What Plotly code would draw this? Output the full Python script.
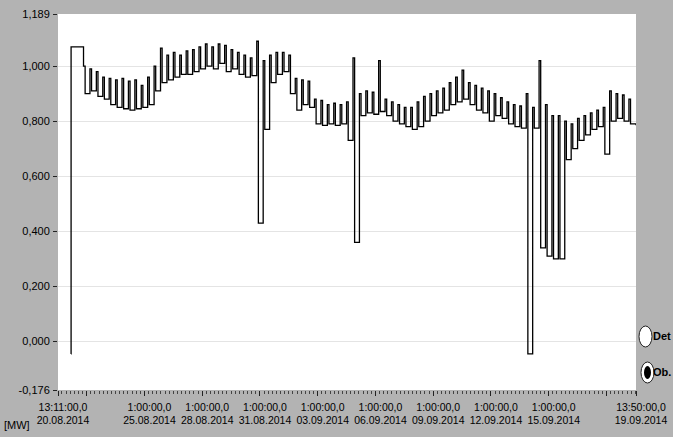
import pandas as pd
import plotly.graph_objects as go

# Active power of the unit, read per 8-hour shift: level at the start of the
# shift (high) and the level it falls back to (low), in MW
shift_high = [
    1.00, 0.99, 0.98, 0.96, 0.955, 0.95, 0.955, 0.945, 0.95, 0.93,
    0.96, 1.00, 1.065, 1.04, 1.05, 1.04, 1.055, 1.06, 1.07, 1.08,
    1.07, 1.08, 1.075, 1.06, 1.05, 1.04, 1.03, 1.09, 1.02, 1.04,
    1.05, 1.05, 1.04, 0.955, 0.95, 0.945, 0.88, 0.875, 0.86, 0.865,
    0.86, 0.87, 1.03, 0.90, 0.91, 0.905, 1.02, 0.88, 0.87, 0.86,
    0.85, 0.85, 0.87, 0.89, 0.90, 0.91, 0.92, 0.94, 0.96, 0.985,
    0.94, 0.93, 0.92, 0.91, 0.90, 0.885, 0.87, 0.86, 0.855, 0.90,
    0.85, 1.02, 0.86, 0.82, 0.82, 0.80, 0.79, 0.81, 0.82, 0.83,
    0.84, 0.85, 0.91, 0.90, 0.895, 0.88,
]
shift_low = [
    0.90, 0.91, 0.89, 0.88, 0.86, 0.85, 0.845, 0.84, 0.845, 0.85,
    0.86, 0.91, 0.94, 0.95, 0.96, 0.97, 0.97, 0.98, 0.99, 1.00,
    0.99, 1.01, 0.98, 0.99, 0.97, 0.96, 0.965, 0.43, 0.77, 0.94,
    0.97, 0.98, 0.90, 0.84, 0.86, 0.85, 0.79, 0.785, 0.79, 0.785,
    0.79, 0.73, 0.36, 0.82, 0.83, 0.825, 0.835, 0.82, 0.80, 0.79,
    0.78, 0.77, 0.78, 0.80, 0.82, 0.83, 0.84, 0.86, 0.87, 0.88,
    0.86, 0.84, 0.83, 0.80, 0.82, 0.81, 0.79, 0.78, 0.775, -0.045,
    0.775, 0.34, 0.31, 0.30, 0.30, 0.66, 0.70, 0.73, 0.75, 0.77,
    0.78, 0.68, 0.80, 0.81, 0.80, 0.79,
]
# Start of recording (value before the unit came online) and the flat
# substitute value held until the first shift
start_times = ["2014-08-21 05:20", "2014-08-21 05:30"]
start_values = [-0.045, 1.07]
first_shift = "2014-08-21 21:00"
high_hours = 2
end_time = "2014-09-19 13:50"
end_value = 0.785

axis_start = "2014-08-20 13:11"
axis_end = "2014-09-19 13:50"
y_ticks = [-0.176, 0.0, 0.2, 0.4, 0.6, 0.8, 1.0, 1.189]
y_ticktext = ["-0,176", "0,000", "0,200", "0,400", "0,600", "0,800", "1,000", "1,189"]
x_ticks = ["2014-08-20 13:11", "2014-08-22 01:00", "2014-08-25 01:00", "2014-08-28 01:00",
           "2014-08-31 01:00", "2014-09-03 01:00", "2014-09-06 01:00", "2014-09-09 01:00",
           "2014-09-12 01:00", "2014-09-15 01:00", "2014-09-18 01:00", "2014-09-19 13:50"]
x_ticktext = ["13:11:00,0<br>20.08.2014", "", "1:00:00,0<br>25.08.2014", "1:00:00,0<br>28.08.2014",
              "1:00:00,0<br>31.08.2014", "1:00:00,0<br>03.09.2014", "1:00:00,0<br>06.09.2014",
              "1:00:00,0<br>09.09.2014", "1:00:00,0<br>12.09.2014", "1:00:00,0<br>15.09.2014",
              "", "13:50:00,0<br>19.09.2014"]

# Assemble the stepped series
shift_starts = pd.date_range(first_shift, periods=len(shift_high), freq="8h")
times = list(pd.to_datetime(start_times))
values = list(start_values)
for t0, hi, lo in zip(shift_starts, shift_high, shift_low):
    times += [t0, t0 + pd.Timedelta(hours=high_hours)]
    values += [hi, lo]
times.append(pd.Timestamp(end_time))
values.append(end_value)

FONT = "Liberation Sans, Arial, sans-serif"
BG = "#b3b3b3"

fig = go.Figure()
fig.add_trace(go.Scatter(
    x=times, y=values, mode="lines", line=dict(color="#000000", width=1.3, shape="hv"),
    showlegend=False, hoverinfo="skip",
))

W, H = 673, 437
L, R, T, B = 58, 37, 14, 47
pw, ph = W - L - R, H - T - B

def px(x):
    return (x - L) / pw

def py(y):
    return (H - B - y) / ph

fig.update_layout(
    width=W, height=H,
    margin=dict(l=L, r=R, t=T, b=B, autoexpand=False),
    paper_bgcolor=BG, plot_bgcolor="white",
    font=dict(family=FONT, size=11, color="black"),
    xaxis=dict(
        type="date", range=[axis_start, axis_end], automargin=False,
        tickmode="array", tickvals=x_ticks, ticktext=x_ticktext, tickangle=0,
        ticks="outside", ticklen=5, tickcolor="#222", tickwidth=1,
        ticklabelshift=5, ticklabelstandoff=2,
        tickfont=dict(family=FONT, size=10.5),
        showgrid=False, zeroline=False, showline=False,
        minor=dict(ticks="outside", ticklen=3, tickcolor="#444",
                   tick0="2014-08-22 01:00", dtick=259200000 / 14, showgrid=False),
    ),
    yaxis=dict(
        range=[-0.176, 1.189], automargin=False,
        tickmode="array", tickvals=y_ticks, ticktext=y_ticktext,
        ticks="outside", ticklen=4, tickcolor="#222",
        ticklabelstandoff=1,
        tickfont=dict(family=FONT, size=11),
        showgrid=True, gridcolor="#e4e4e4", gridwidth=1, zeroline=False,
        showline=False,
    ),
)

# Radio-button legend on the right
shapes = [
    dict(type="circle", xref="paper", yref="paper",
         x0=px(639), x1=px(652), y0=py(347), y1=py(326),
         fillcolor="white", line=dict(color="#222", width=1)),
    dict(type="circle", xref="paper", yref="paper",
         x0=px(641), x1=px(654), y0=py(383), y1=py(362),
         fillcolor="white", line=dict(color="#222", width=1)),
    dict(type="circle", xref="paper", yref="paper",
         x0=px(644), x1=px(651), y0=py(379), y1=py(366),
         fillcolor="black", line=dict(color="black", width=0)),
]
fig.update_layout(shapes=shapes)
fig.add_annotation(x=px(672), y=py(336), xref="paper", yref="paper", text="<b>Det</b>",
                   showarrow=False, xanchor="right", yanchor="middle", borderpad=0,
                   font=dict(family=FONT, size=11))
fig.add_annotation(x=px(672), y=py(372), xref="paper", yref="paper", text="<b>Ob.</b>",
                   showarrow=False, xanchor="right", yanchor="middle", borderpad=0,
                   font=dict(family=FONT, size=11))
fig.add_annotation(x=px(2), y=py(425), xref="paper", yref="paper", text="[MW]",
                   showarrow=False, xanchor="left", yanchor="middle",
                   font=dict(family=FONT, size=11))

fig.write_html("out.html")
